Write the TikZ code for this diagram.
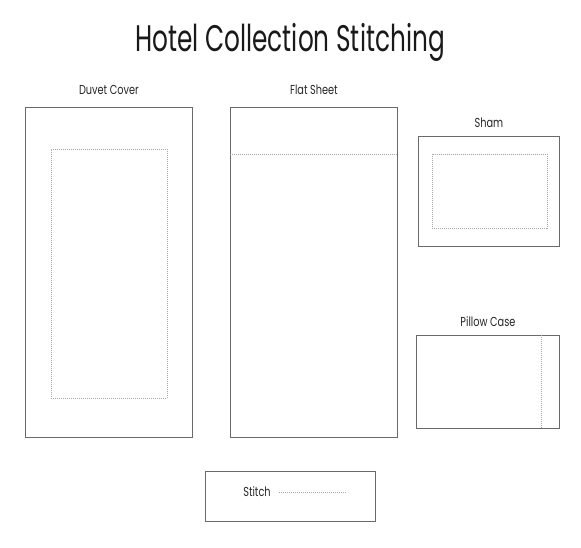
\documentclass[tikz,border=0pt]{standalone}
\usepackage{fontspec}
\setmainfont{Poppins}[FakeStretch=0.75]
\newfontfamily\titlefont{Poppins}[FakeStretch=0.67]
\usetikzlibrary{positioning}
\definecolor{edgegray}{HTML}{6A6A6A}
\definecolor{stitchgray}{HTML}{A8A8A8}
\tikzset{
  piece/.style={draw=edgegray, line width=0.9pt, inner sep=0pt, anchor=north west},
  stitchbox/.style={draw=stitchgray, line width=0.6pt, dash pattern=on 1pt off 1pt, inner sep=0pt},
  stitchline/.style={draw=stitchgray, line width=0.6pt, dash pattern=on 1pt off 1pt},
  piecelabel/.style={font=\fontsize{13}{15}\selectfont, text=black!85, inner sep=0pt},
}

\begin{document}
\begin{tikzpicture}[x=1pt, y=-1pt]
  \useasboundingbox (0,0) rectangle (581,547);

  \node[font=\titlefont\fontsize{37}{40}\selectfont, text=black!90] (title) at (290,42) {Hotel Collection Stitching};

  \node[piece, minimum width=167pt, minimum height=330pt] (duvet) at (25,107) {};
  \node[piece, minimum width=167pt, minimum height=330pt] (flat) at (230,107) {};
  \node[piece, minimum width=141pt, minimum height=110pt] (sham) at (418,136) {};
  \node[piece, minimum width=143pt, minimum height=93pt] (pillow) at (416,335) {};
  \node[piece, minimum width=170pt, minimum height=50pt] (legend) at (205,471) {};

  \node[piecelabel, above=12pt of duvet] {Duvet Cover};
  \node[piecelabel, above=12pt of flat] {Flat Sheet};
  \node[piecelabel, above=8pt of sham] {Sham};
  \node[piecelabel, above=8pt of pillow] {Pillow Case};

  \node[stitchbox, minimum width=116pt, minimum height=249pt] (duvet seam) at ([yshift=-1.5pt]duvet.center) {};
  \node[stitchbox, minimum width=115pt, minimum height=74pt] (sham seam) at ([xshift=1pt]sham.center) {};

  \coordinate[below=47pt of flat.north west] (fold west);
  \coordinate[below=47pt of flat.north east] (fold east);
  \draw[stitchline] (fold west) -- (fold east);

  \coordinate[left=19pt of pillow.north east] (hem top);
  \coordinate[left=19pt of pillow.south east] (hem bottom);
  \draw[stitchline] (hem top) -- (hem bottom);

  \node[piecelabel] (stitch text) at (257,492) {Stitch};
  \coordinate[right=8pt of stitch text.east] (key start);
  \coordinate[right=76pt of stitch text.east] (key end);
  \draw[stitchline] (key start) -- (key end);
\end{tikzpicture}
\end{document}
